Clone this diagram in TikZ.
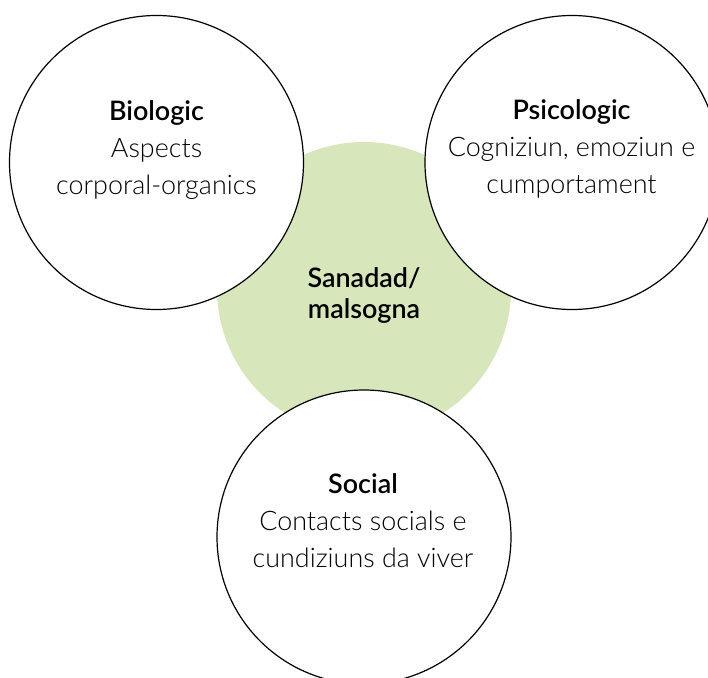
\documentclass[tikz,border=0pt]{standalone}
\usepackage{fontspec}
\IfFontExistsTF{Lato Light}{%
  \IfFontExistsTF{Lato Semibold}%
    {\setmainfont{Lato Light}[BoldFont={Lato Semibold}]}%
    {\setmainfont{Lato Light}[BoldFont={Lato Bold}]}%
}{%
  \IfFontExistsTF{Fira Sans Light}%
    {\setmainfont{Fira Sans Light}[BoldFont={Fira Sans Medium}]}%
    {\setmainfont{Fira Sans}}%
}
\definecolor{sgreen}{HTML}{D7E6BB}
\begin{document}
\begin{tikzpicture}[x=1bp,y=-1bp,
  ring/.style={circle,draw=black,line width=1.2bp,fill=white,minimum size=294bp,inner sep=0pt},
  core/.style={circle,fill=sgreen,minimum size=294bp,inner sep=0pt},
  lbl/.style={align=center,font=\fontsize{27}{37}\selectfont,anchor=base},
  corelbl/.style={align=center,font=\fontsize{27}{31}\selectfont\bfseries,anchor=base}]
\useasboundingbox (0,0) rectangle (708,678);
\node[core] (core) at (364,289) {};
\node[ring] (bio) at (156.5,162.5) {};
\node[ring] (psi) at (572,162.5) {};
\node[ring] (soc) at (364,537) {};
\node[corelbl] (tcore) at (364,318) {Sanadad/\\malsogna};
\node[lbl] (tbio) at (156.5,194) {\textbf{Biologic}\\Aspects\\corporal-organics};
\node[lbl] (tpsi) at (571.5,193) {\textbf{Psicologic}\\Cogniziun, emoziun e\\cumportament};
\node[lbl] (tsoc) at (363,567) {\textbf{Social}\\Contacts socials e\\cundiziuns da viver};
\end{tikzpicture}
\end{document}
